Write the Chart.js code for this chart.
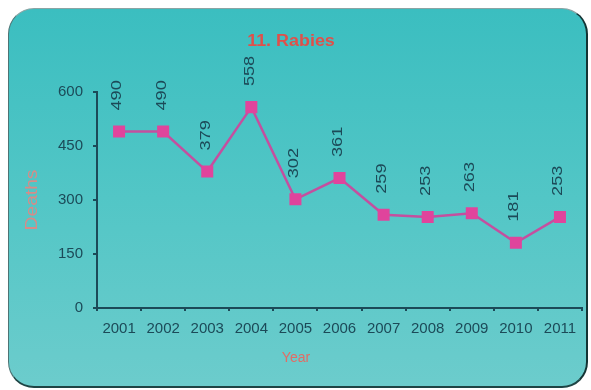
<!DOCTYPE html>
<html lang="en">
<head>
  <meta charset="UTF-8" />
  <title>11. Rabies</title>
  <script src="https://cdn.jsdelivr.net/npm/chart.js"></script>
  <style>
    html, body {
      margin: 0;
      padding: 0;
      background: #ffffff;
    }
    .card {
      position: absolute;
      left: 8px;
      top: 8px;
      width: 577px;
      height: 377px;
      border-radius: 26px;
      border-style: solid;
      border-width: 1.5px 2.5px 2.5px 1.5px;
      border-color: #8aa4a4 #143434 #1e4444 #4d7474;
      background: linear-gradient(to bottom, #3bbec0 0%, #52c6c6 50%, #6ccccc 100%);
    }
    .wrap {
      position: absolute;
      left: 0;
      top: 0;
      width: 591px;
      height: 390px;
    }
  </style>
</head>
<body>
  <div class="card"></div>
  <div class="wrap"><canvas id="chart" width="591" height="390"></canvas></div>
  <script>
    const chartTitle = '11. Rabies';
    const xTitle = 'Year';
    const yTitle = 'Deaths';
    const years = ['2001', '2002', '2003', '2004', '2005', '2006', '2007', '2008', '2009', '2010', '2011'];
    const deaths = [490, 490, 379, 558, 302, 361, 259, 253, 263, 181, 253];
    const yTicks = [0, 150, 300, 450, 600];

    const axisColor = '#1c4a58';
    const font = "'Liberation Sans', Arial, sans-serif";

    // value labels (rotated) and the off-centre titles
    const extraText = {
      id: 'extraText',
      afterDatasetsDraw(chart) {
        const ctx = chart.ctx;
        const meta = chart.getDatasetMeta(0);
        ctx.save();
        ctx.fillStyle = axisColor;
        ctx.font = '14px ' + font;
        ctx.textAlign = 'left';
        ctx.textBaseline = 'middle';
        meta.data.forEach((pt, i) => {
          ctx.save();
          ctx.translate(pt.x - 1.5, pt.y - 21);
          ctx.rotate(-Math.PI / 2);
          ctx.scale(1.3, 1);
          ctx.fillText(String(deaths[i]), 0, 0);
          ctx.restore();
        });

        ctx.textAlign = 'center';
        ctx.fillStyle = '#e0504a';
        ctx.font = 'bold 16px ' + font;
        ctx.save();
        ctx.translate(291, 42);
        ctx.scale(1.12, 1);
        ctx.fillText(chartTitle, 0, 0);
        ctx.restore();

        ctx.fillStyle = '#e36c64';
        ctx.font = '14px ' + font;
        ctx.fillText(xTitle, 296, 358);

        ctx.fillStyle = '#d68c88';
        ctx.font = '16px ' + font;
        ctx.save();
        ctx.translate(33, (chart.chartArea.top + chart.chartArea.bottom) / 2);
        ctx.rotate(-Math.PI / 2);
        ctx.scale(1.2, 1);
        ctx.fillText(yTitle, 0, 0);
        ctx.restore();
        ctx.restore();
      }
    };

    new Chart(document.getElementById('chart'), {
      type: 'line',
      data: {
        labels: years,
        datasets: [{
          data: deaths,
          borderColor: '#c44f9f',
          borderWidth: 2.5,
          pointStyle: 'rect',
          pointRadius: 8.5,
          pointBackgroundColor: '#e0449c',
          pointBorderColor: '#e0449c',
          pointBorderWidth: 0,
          tension: 0,
          fill: false
        }]
      },
      options: {
        responsive: false,
        animation: false,
        devicePixelRatio: 1,
        layout: {
          padding: { left: 48, right: 9, top: 92, bottom: 43 }
        },
        plugins: {
          legend: { display: false },
          tooltip: { enabled: false },
          title: { display: false }
        },
        scales: {
          x: {
            offset: true,
            grid: {
              display: true,
              offset: true,
              drawOnChartArea: false,
              drawTicks: true,
              tickLength: 3,
              color: axisColor,
              lineWidth: 2
            },
            border: { color: axisColor, width: 2 },
            ticks: {
              color: axisColor,
              font: { family: font, size: 15 },
              padding: 9,
              maxRotation: 0,
              autoSkip: false
            }
          },
          y: {
            min: 0,
            max: 600,
            afterBuildTicks(scale) {
              scale.ticks = yTicks.map(v => ({ value: v }));
            },
            grid: {
              display: true,
              drawOnChartArea: false,
              drawTicks: true,
              tickLength: 4,
              color: axisColor,
              lineWidth: 2
            },
            border: { color: axisColor, width: 2 },
            ticks: {
              color: axisColor,
              font: { family: font, size: 15 },
              padding: 10
            }
          }
        }
      },
      plugins: [extraText]
    });
  </script>
</body>
</html>
